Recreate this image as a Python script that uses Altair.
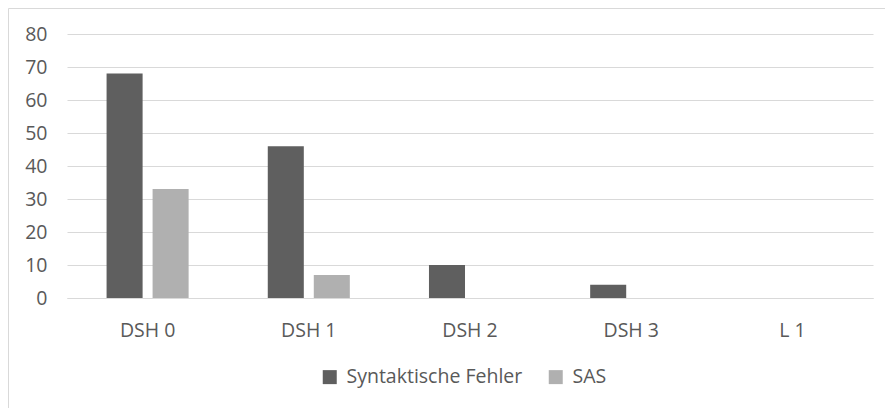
import altair as alt
import pandas as pd

categories = ["DSH 0", "DSH 1", "DSH 2", "DSH 3", "L 1"]
series_names = ["Syntaktische Fehler", "SAS"]
syntaktische_fehler = [68, 46, 10, 4, 0]
sas = [33, 7, 0, 0, 0]
colors = ["#5f5f5f", "#b0b0b0"]

rows = []
for i, c in enumerate(categories):
    rows.append({"Kategorie": c, "Reihe": series_names[0], "Wert": syntaktische_fehler[i]})
    rows.append({"Kategorie": c, "Reihe": series_names[1], "Wert": sas[i]})
df = pd.DataFrame(rows)

W, H = 806, 264
FONT = "Open Sans"
FS = 19.5
TXT = "#595959"

bars = alt.Chart(df).mark_bar().encode(
    x=alt.X("Kategorie:N", sort=categories, title=None,
            scale=alt.Scale(paddingInner=0, paddingOuter=0),
            axis=alt.Axis(labelAngle=0, ticks=False, domain=True, domainColor="#d9d9d9",
                          domainWidth=1, labelPadding=23, labelFontSize=FS,
                          labelColor=TXT, labelFont=FONT)),
    xOffset=alt.XOffset("Reihe:N", sort=series_names,
                        scale=alt.Scale(paddingInner=0.217, paddingOuter=0.86)),
    y=alt.Y("Wert:Q", title=None,
            scale=alt.Scale(domain=[0, 80], nice=False),
            axis=alt.Axis(values=list(range(0, 81, 10)), ticks=False, domain=False,
                          gridColor="#d9d9d9", gridWidth=1, labelPadding=20,
                          labelFontSize=FS, labelColor=TXT, labelFont=FONT)),
    color=alt.Color("Reihe:N", sort=series_names,
                    scale=alt.Scale(domain=series_names, range=colors),
                    legend=alt.Legend(title=None, orient="none", direction="horizontal",
                                      legendX=253, legendY=333, symbolType="square",
                                      symbolSize=196, symbolStrokeWidth=0,
                                      labelFontSize=FS, labelColor=TXT, labelFont=FONT,
                                      labelLimit=400, columnPadding=23, labelOffset=7)),
)

deco = pd.DataFrame({"d": [0]})
border_top = alt.Chart(deco).mark_rule(color="#d9d9d9", strokeWidth=1, clip=False).encode(
    x=alt.value(-58.5), x2=alt.value(830), y=alt.value(-25.5)
)
border_left = alt.Chart(deco).mark_rule(color="#d9d9d9", strokeWidth=1, clip=False).encode(
    x=alt.value(-58.5), y=alt.value(-25.5), y2=alt.value(420)
)

chart = alt.layer(border_top, border_left, bars).properties(
    width=W, height=H,
    autosize=alt.AutoSizeParams(type="none"),
    padding={"left": 59, "top": 26, "right": 12, "bottom": 110},
).configure(background="white").configure_view(stroke=None)

chart.save("out.html", embed_options={"renderer": "svg", "actions": False})
